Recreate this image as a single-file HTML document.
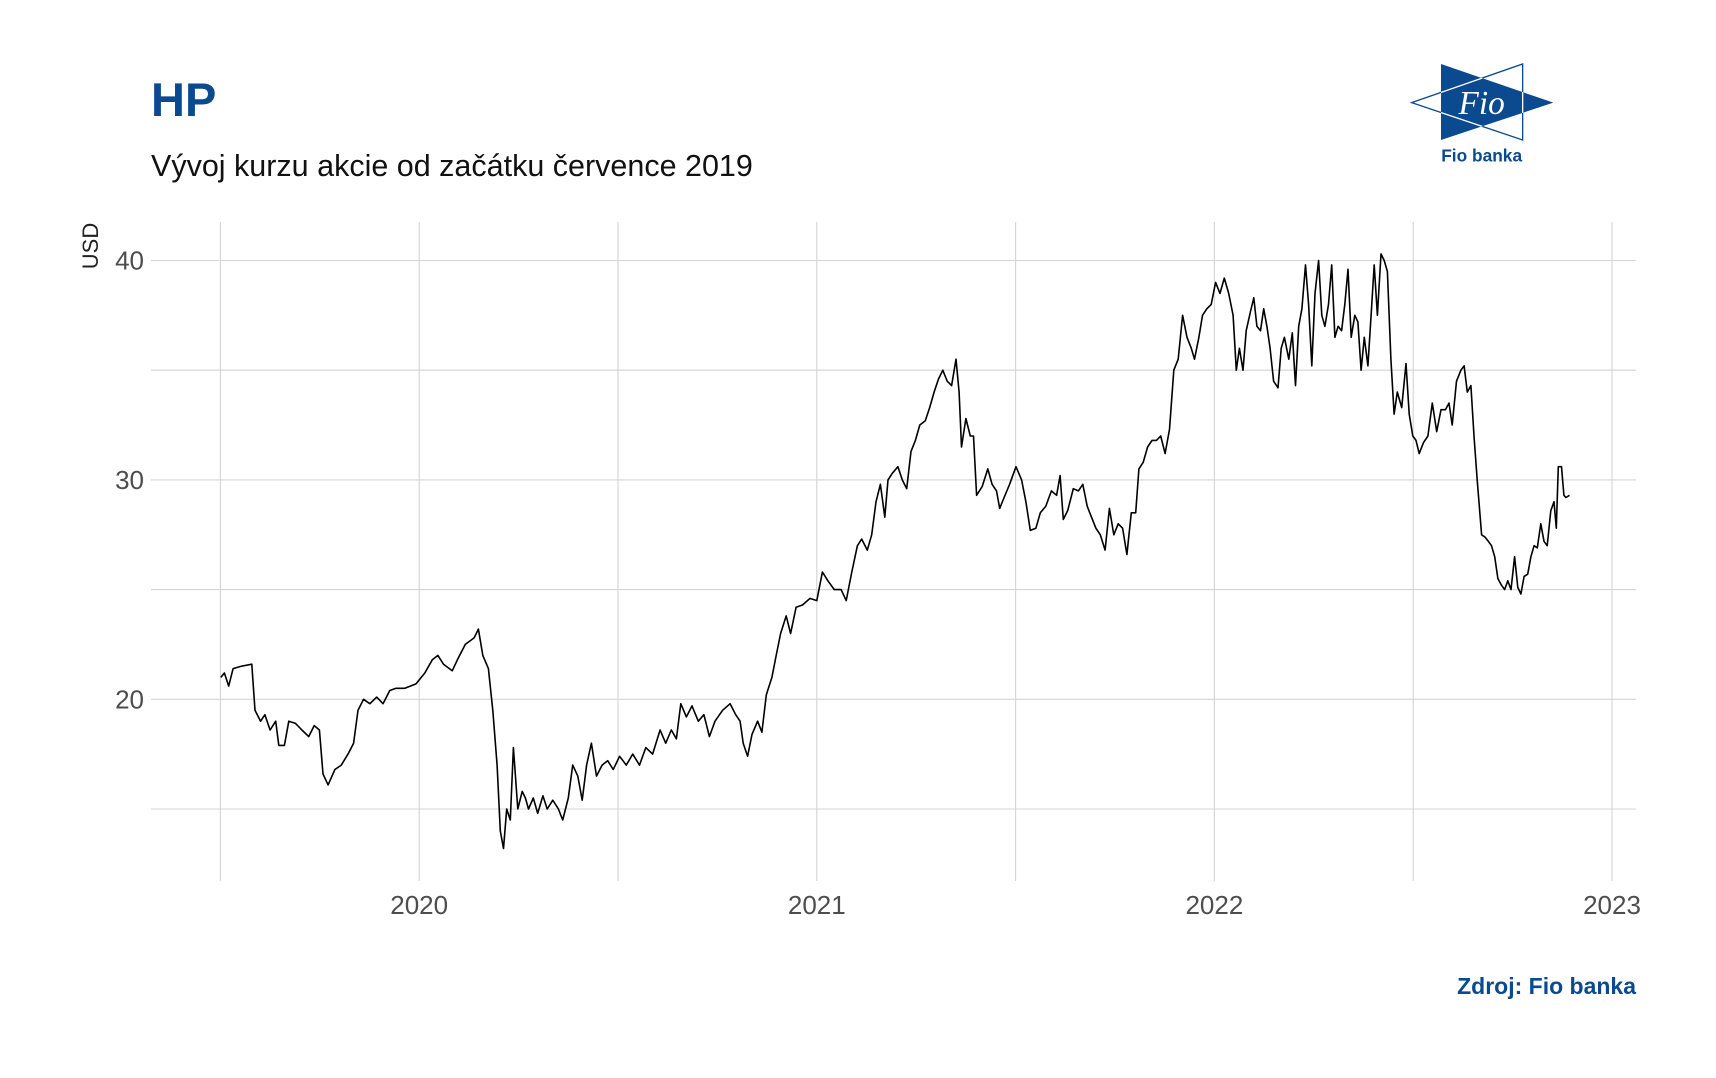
<!DOCTYPE html>
<html><head><meta charset="utf-8"><style>
html,body{margin:0;padding:0;background:#fff;}
svg{display:block;font-family:"Liberation Sans",sans-serif;}
</style></head><body>
<svg id="chart" width="1716" height="1078" viewBox="0 0 1716 1078">
<rect width="1716" height="1078" fill="#fff"/>
<text x="151" y="116" font-size="47" font-weight="bold" fill="#0b4a8e">HP</text>
<text x="151" y="176" font-size="30.5" fill="#111">Vývoj kurzu akcie od začátku července 2019</text>
<g transform="translate(1380,40) scale(0.3333)">
<defs><clipPath id="bl"><polygon points="183,72 520,188 183,300"/></clipPath></defs>
<polygon points="183,72 520,188 183,300" fill="#0b4a8e"/>
<polygon points="428,72 428,300 95,188" fill="none" stroke="#0b4a8e" stroke-width="4"/>
<polygon points="428,72 428,300 95,188" fill="none" stroke="#fff" stroke-width="4" clip-path="url(#bl)"/>
<text x="305" y="222" font-family="Liberation Serif,serif" font-style="italic" font-size="100" fill="#fff" text-anchor="middle">Fio</text>
<text x="305" y="365" font-size="52" font-weight="bold" fill="#0b4a8e" text-anchor="middle">Fio banka</text>
</g>
<g id="grid"></g>
<g id="axes"></g>
<path id="line" fill="none" stroke="#000" stroke-width="1.6" stroke-linejoin="round"/>
<text transform="translate(98,246) rotate(-90)" font-size="22" fill="#222" text-anchor="middle">USD</text>
<text x="1636" y="994" font-size="23" font-weight="bold" fill="#0b4a8e" text-anchor="end">Zdroj: Fio banka</text>
</svg>
<script>
const dates=[2019.501,2019.510,2019.521,2019.532,2019.551,2019.579,2019.587,2019.601,2019.612,2019.625,2019.639,2019.647,2019.661,2019.672,2019.689,2019.705,2019.722,2019.736,2019.749,2019.758,2019.771,2019.788,2019.804,2019.821,2019.835,2019.846,2019.860,2019.876,2019.893,2019.909,2019.926,2019.942,2019.964,2019.992,2020.014,2020.033,2020.047,2020.061,2020.083,2020.096,2020.116,2020.138,2020.149,2020.160,2020.174,2020.185,2020.196,2020.204,2020.212,2020.220,2020.229,2020.237,2020.248,2020.259,2020.267,2020.275,2020.287,2020.298,2020.311,2020.322,2020.336,2020.350,2020.361,2020.375,2020.386,2020.399,2020.410,2020.421,2020.433,2020.446,2020.460,2020.474,2020.488,2020.504,2020.521,2020.537,2020.554,2020.570,2020.587,2020.606,2020.620,2020.634,2020.647,2020.658,2020.672,2020.686,2020.702,2020.716,2020.730,2020.744,2020.763,2020.782,2020.796,2020.807,2020.815,2020.826,2020.837,2020.851,2020.862,2020.873,2020.887,2020.898,2020.909,2020.923,2020.934,2020.948,2020.964,2020.983,2021.000,2021.014,2021.028,2021.044,2021.061,2021.074,2021.088,2021.102,2021.113,2021.127,2021.138,2021.149,2021.160,2021.171,2021.179,2021.190,2021.204,2021.215,2021.226,2021.237,2021.248,2021.259,2021.273,2021.284,2021.295,2021.306,2021.317,2021.328,2021.339,2021.350,2021.358,2021.364,2021.375,2021.386,2021.394,2021.402,2021.416,2021.430,2021.441,2021.452,2021.460,2021.471,2021.485,2021.501,2021.515,2021.526,2021.537,2021.551,2021.562,2021.576,2021.590,2021.603,2021.612,2021.620,2021.631,2021.645,2021.658,2021.669,2021.680,2021.691,2021.702,2021.713,2021.725,2021.736,2021.747,2021.758,2021.769,2021.780,2021.791,2021.802,2021.810,2021.821,2021.832,2021.843,2021.854,2021.865,2021.876,2021.887,2021.898,2021.909,2021.920,2021.931,2021.942,2021.950,2021.961,2021.970,2021.981,2021.992,2022.003,2022.014,2022.025,2022.036,2022.047,2022.055,2022.063,2022.072,2022.080,2022.091,2022.099,2022.107,2022.116,2022.124,2022.132,2022.140,2022.149,2022.160,2022.168,2022.176,2022.187,2022.196,2022.204,2022.212,2022.220,2022.229,2022.237,2022.245,2022.253,2022.262,2022.270,2022.278,2022.287,2022.295,2022.303,2022.311,2022.320,2022.328,2022.336,2022.344,2022.353,2022.361,2022.369,2022.377,2022.386,2022.394,2022.402,2022.410,2022.419,2022.427,2022.435,2022.444,2022.452,2022.460,2022.471,2022.482,2022.490,2022.499,2022.507,2022.515,2022.526,2022.537,2022.548,2022.559,2022.570,2022.581,2022.590,2022.598,2022.609,2022.620,2022.628,2022.636,2022.645,2022.653,2022.661,2022.672,2022.680,2022.689,2022.697,2022.705,2022.713,2022.722,2022.730,2022.738,2022.746,2022.755,2022.763,2022.771,2022.779,2022.788,2022.796,2022.804,2022.812,2022.821,2022.829,2022.837,2022.846,2022.854,2022.860,2022.865,2022.873,2022.879,2022.884,2022.893];
const prices=[21.0,21.2,20.6,21.4,21.5,21.6,19.5,19.0,19.3,18.6,19.0,17.9,17.9,19.0,18.9,18.6,18.3,18.8,18.6,16.6,16.1,16.8,17.0,17.5,18.0,19.5,20.0,19.8,20.1,19.8,20.4,20.5,20.5,20.7,21.2,21.8,22.0,21.6,21.3,21.8,22.5,22.8,23.2,22.0,21.4,19.5,17.0,14.0,13.2,15.0,14.5,17.8,15.0,15.8,15.5,15.0,15.5,14.8,15.6,15.0,15.4,15.0,14.5,15.5,17.0,16.5,15.4,17.0,18.0,16.5,17.0,17.2,16.8,17.4,17.0,17.5,17.0,17.8,17.5,18.6,18.0,18.6,18.2,19.8,19.2,19.7,19.0,19.3,18.3,19.0,19.5,19.8,19.3,19.0,18.0,17.4,18.4,19.0,18.5,20.2,21.0,22.0,23.0,23.8,23.0,24.2,24.3,24.6,24.5,25.8,25.4,25.0,25.0,24.5,25.8,27.0,27.3,26.8,27.5,29.0,29.8,28.3,30.0,30.3,30.6,30.0,29.6,31.3,31.8,32.5,32.7,33.3,34.0,34.6,35.0,34.5,34.3,35.5,34.0,31.5,32.8,32.0,32.0,29.3,29.7,30.5,29.8,29.5,28.7,29.2,29.8,30.6,30.0,29.0,27.7,27.8,28.5,28.8,29.5,29.3,30.2,28.2,28.6,29.6,29.5,29.8,28.8,28.3,27.8,27.5,26.8,28.7,27.5,28.0,27.8,26.6,28.5,28.5,30.5,30.8,31.5,31.8,31.8,32.0,31.2,32.3,35.0,35.5,37.5,36.5,36.0,35.5,36.5,37.5,37.8,38.0,39.0,38.5,39.2,38.5,37.5,35.0,36.0,35.0,36.8,37.7,38.3,37.0,36.8,37.8,37.0,36.0,34.5,34.2,36.0,36.5,35.5,36.7,34.3,37.0,37.8,39.8,38.0,35.2,38.5,40.0,37.5,37.0,38.0,39.8,36.5,37.0,36.8,38.0,39.6,36.5,37.5,37.2,35.0,36.5,35.2,37.5,39.8,37.5,40.3,40.0,39.5,35.5,33.0,34.0,33.3,35.3,33.0,32.0,31.8,31.2,31.7,32.0,33.5,32.2,33.2,33.2,33.5,32.5,34.5,35.0,35.2,34.0,34.3,32.0,30.0,27.5,27.4,27.2,27.0,26.5,25.5,25.2,25.0,25.4,25.0,26.5,25.1,24.8,25.6,25.7,26.5,27.0,26.9,28.0,27.2,27.0,28.6,29.0,27.8,30.6,30.6,29.3,29.2,29.3];
const xTicks=[2020,2021,2022,2023];
const xMinor=[2019.5,2020.5,2021.5,2022.5];
const yTicks=[20,30,40];
const yMinor=[15,25,35];

const NS="http://www.w3.org/2000/svg";
const X0=151,X1=1636,Y0=222,Y1=881;
function xs(t){return 419.2+(t-2020)*397.6;}
function ys(v){return 699.3-(v-20)*21.94;}
const grid=document.getElementById('grid'),axes=document.getElementById('axes');
function ln(x1,y1,x2,y2,w){const l=document.createElementNS(NS,'line');l.setAttribute('x1',x1);l.setAttribute('y1',y1);l.setAttribute('x2',x2);l.setAttribute('y2',y2);l.setAttribute('stroke','#d4d4d4');l.setAttribute('stroke-width',w);grid.appendChild(l);return l;}
xMinor.concat(xTicks).forEach(t=>{const l=ln(xs(t),Y0,xs(t),Y1,1.1);

});
yMinor.concat(yTicks).forEach(v=>{const l=ln(X0,ys(v),X1,ys(v),1.1);

});
xTicks.forEach(t=>{const e=document.createElementNS(NS,'text');e.setAttribute('x',xs(t));e.setAttribute('y',914);e.setAttribute('font-size','26');e.setAttribute('fill','#4d4d4d');e.setAttribute('text-anchor','middle');e.textContent=t;


axes.appendChild(e);});
yTicks.forEach(v=>{const e=document.createElementNS(NS,'text');e.setAttribute('x',144);e.setAttribute('y',ys(v)+9);e.setAttribute('font-size','26');e.setAttribute('fill','#4d4d4d');e.setAttribute('text-anchor','end');e.textContent=v;


axes.appendChild(e);});
let d='';dates.forEach((t,i)=>{d+=(i?'L':'M')+xs(t).toFixed(1)+' '+ys(prices[i]).toFixed(1);});
document.getElementById('line').setAttribute('d',d);
</script>
</body></html>
